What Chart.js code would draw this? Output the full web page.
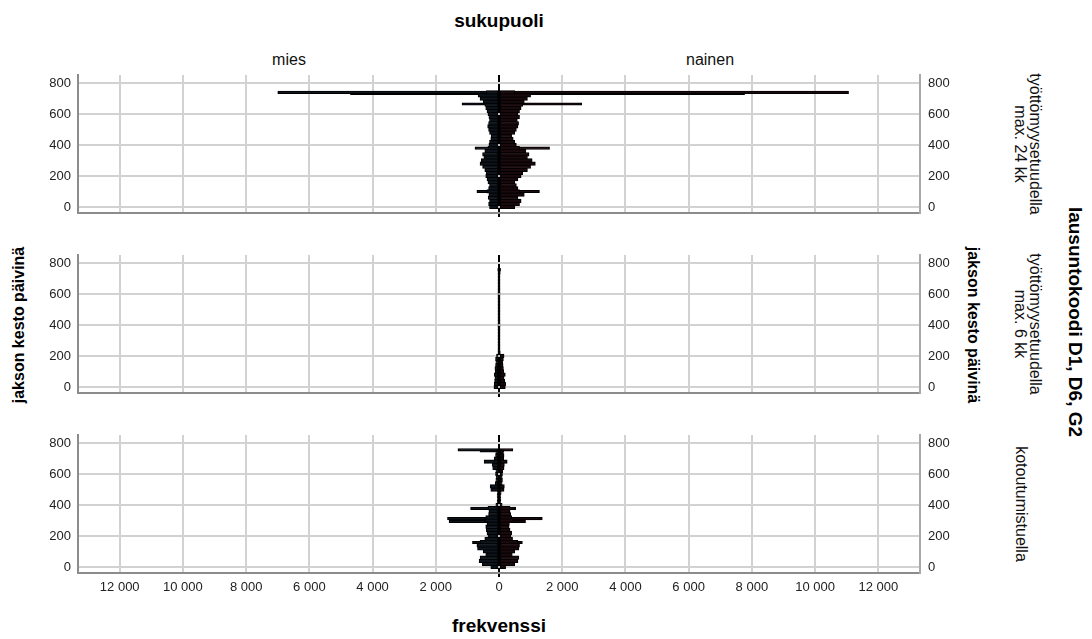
<!DOCTYPE html>
<html><head><meta charset="utf-8">
<script src="https://cdn.jsdelivr.net/npm/chart.js@4.4.1/dist/chart.umd.min.js"></script>
<style>
body{margin:0;background:#fff;width:1092px;height:639px;position:relative;overflow:hidden;font-family:"Liberation Sans",Arial,sans-serif;color:#000}
canvas{position:absolute;left:0}
.t{position:absolute;white-space:nowrap;transform:translate(-50%,-50%);line-height:1}
.b{font-weight:bold;font-size:16px}
.s{font-size:16px;color:#111}
.r90{transform:translate(-50%,-50%) rotate(90deg);text-align:center}
.rm90{transform:translate(-50%,-50%) rotate(-90deg)}
</style></head><body>
<div class="t b" style="left:499px;top:20px;font-size:19px">sukupuoli</div>
<div class="t s" style="left:289px;top:60px">mies</div>
<div class="t s" style="left:710px;top:60px">nainen</div>
<div class="t b rm90" style="left:19px;top:325px">jakson kesto päivinä</div>
<div class="t b r90" style="left:973px;top:325px">jakson kesto päivinä</div>
<div class="t s r90" style="left:1028px;top:144px;line-height:15px">työttömyysetuudella<br>max. 24 kk</div>
<div class="t s r90" style="left:1028px;top:324px;line-height:15px">työttömyysetuudella<br>max. 6 kk</div>
<div class="t s r90" style="left:1021px;top:504px">kotoutumistuella</div>
<div class="t b r90" style="left:1075px;top:322px;font-size:19px">lausuntokoodi D1, D6, G2</div>
<div class="t b" style="left:499px;top:625px;font-size:19px">frekvenssi</div>
<canvas id="p1" width="1092" height="149" style="top:70px"></canvas>
<canvas id="p2" width="1092" height="149" style="top:250px"></canvas>
<canvas id="p3" width="1092" height="173" style="top:430px"></canvas>
<script>
// category bins (days, start of 20-day bin)
const days = [0,20,40,60,80,100,120,140,160,180,200,220,240,260,280,300,320,340,360,380,400,420,440,460,480,500,520,540,560,580,600,620,640,660,680,700,720,740];
const xTicks = [-12000,-10000,-8000,-6000,-4000,-2000,0,2000,4000,6000,8000,10000,12000];
const yTicks = [0,200,400,600,800];

// panel 1: työttömyysetuudella max. 24 kk
const p1Male   = [300,330,300,340,320,380,330,300,350,380,420,400,450,520,600,560,480,520,450,350,320,300,260,250,300,330,360,330,300,320,350,380,420,450,500,600,660,400];
const p1Female = [500,650,700,600,800,650,600,550,500,600,700,750,900,1000,1150,1050,900,950,850,650,550,500,450,400,500,550,600,620,580,650,600,650,700,750,800,900,1000,500];
const p1SpikeDays   = [100,380,665,733,740];
const p1SpikeMale   = [700,760,1170,4700,7000];
const p1SpikeFemale = [1280,1600,2620,7770,11060];

// panel 2: työttömyysetuudella max. 6 kk
const p2Male   = [160,150,140,130,150,120,130,110,100,110,80,30,28,25,30,22,26,30,24,28,25,22,26,24,20,25,28,22,24,26,22,25,20,24,22,26,24,30];
const p2Female = [200,210,180,160,200,150,140,130,120,140,160,40,30,32,28,30,26,30,28,25,30,28,24,26,28,30,25,28,26,24,28,25,30,26,24,28,30,40];
const p2SpikeDays   = [758];
const p2SpikeMale   = [40];
const p2SpikeFemale = [50];

// panel 3: kotoutumistuella
const p3Male   = [260,530,630,600,420,500,680,700,600,450,350,380,400,420,380,450,420,330,320,350,100,60,50,60,50,260,280,120,100,90,110,100,200,210,470,150,110,100];
const p3Female = [210,500,600,630,420,500,630,650,600,430,380,400,350,320,330,450,400,370,350,350,100,50,60,50,70,160,170,100,110,100,110,120,160,170,260,150,160,140];
const p3SpikeDays   = [158,294,312,378,750,756];
const p3SpikeMale   = [840,1580,1630,900,600,1300];
const p3SpikeFemale = [740,840,1370,530,150,440];

const MALE = '#0e141c', FEMALE = '#1a0a0e';
const fmt = v => String(Math.abs(v)).replace(/\B(?=(\d{3})+(?!\d))/g, '\u00a0');
const TXT = {family:'"Liberation Sans", Arial, sans-serif', size:13};

function panel(id, male, female, sd, sm, sf, showX) {
  const ds = (vals, sign, color) => ({
    data: days.map((d,i) => ({x: sign*vals[i], y: d})),
    backgroundColor: color, borderColor:'#000', borderWidth:1, barThickness:3.6, grouped:false, borderSkipped:false
  });
  const sp = (vals, sign, color) => ({
    data: sd.map((d,i) => ({x: sign*vals[i], y: d})),
    backgroundColor: color, borderColor:'#000', borderWidth:1, barThickness:2.5, grouped:false, borderSkipped:false
  });
  const yFit = w => s => { s.width = w; s.paddingTop = 0; s.paddingBottom = 0; };
  new Chart(document.getElementById(id), {
    type:'bar',
    data:{datasets:[ds(male,-1,MALE), ds(female,1,FEMALE), sp(sm,-1,MALE), sp(sf,1,FEMALE)]},
    options:{
      indexAxis:'y', responsive:false, animation:false, events:[],
      layout:{padding:{top:5,left:0,right:0,bottom:0}},
      plugins:{legend:{display:false}, tooltip:{enabled:false}},
      scales:{
        x:{type:'linear', min:-13320, max:13320, offset:false,
           afterBuildTicks: s => { s.ticks = xTicks.map(v => ({value:v})); },
           afterFit: s => { s.height = showX ? 30 : 6; s.paddingLeft = 0; s.paddingRight = 0; },
           grid:{color: c => (c.tick && c.tick.value === 0) ? '#000' : '#d2d2d2',
                 lineWidth: 2,
                 drawTicks:true, tickLength:4,
                 tickColor: c => (c.tick && c.tick.value === 0) ? '#000' : 'rgba(0,0,0,0)'},
           border:{display:true, color:'#8c8c8c', width:2},
           ticks:{display:showX, callback: v => fmt(v), font:TXT, color:'#222', padding:3, maxRotation:0, autoSkip:false}},
        y:{type:'linear', position:'left', min:-39, max:852, offset:false,
           afterBuildTicks: s => { s.ticks = yTicks.map(v => ({value:v})); },
           afterFit: yFit(78),
           grid:{color:'#d2d2d2', lineWidth:2, drawTicks:false, offset:false},
           border:{display:true, color:'#8c8c8c', width:2},
           ticks:{font:TXT, color:'#222', padding:7}},
        y2:{type:'linear', position:'right', min:-39, max:852, offset:false,
           afterBuildTicks: s => { s.ticks = yTicks.map(v => ({value:v})); },
           afterFit: yFit(172),
           grid:{display:false, drawTicks:false, offset:false},
           border:{display:true, color:'#a8a8a8', width:2},
           ticks:{font:TXT, color:'#222', padding:8}}
      }
    }
  });
}
panel('p1', p1Male, p1Female, p1SpikeDays, p1SpikeMale, p1SpikeFemale, false);
panel('p2', p2Male, p2Female, p2SpikeDays, p2SpikeMale, p2SpikeFemale, false);
panel('p3', p3Male, p3Female, p3SpikeDays, p3SpikeMale, p3SpikeFemale, true);
</script>
</body></html>
